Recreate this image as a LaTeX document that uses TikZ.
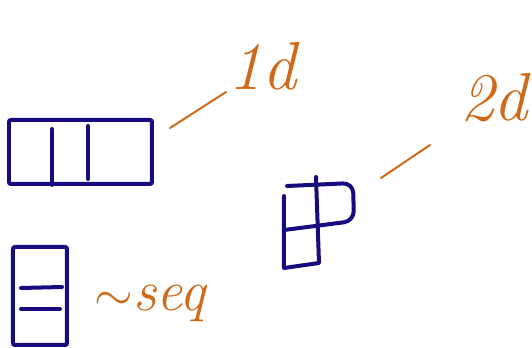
\documentclass[tikz,border=0pt]{standalone}
\usepackage{tikz}
\usetikzlibrary{positioning}
\definecolor{InkBlue}{RGB}{22,12,128}
\definecolor{InkOrange}{RGB}{207,106,26}
\tikzset{
  ink/.style={InkBlue, line width=2pt, line cap=round, line join=round},
  note/.style={InkOrange, line width=1pt, line cap=round},
  hand/.style={text=InkOrange, font=\itshape\fontsize{34}{34}\selectfont, inner sep=0pt},
  cellbox/.style={draw=InkBlue, line width=2pt, inner sep=0pt, outer sep=0pt, rounded corners=1pt}
}
\begin{document}
\begin{tikzpicture}[x=0.5pt, y=-0.5pt]
    \useasboundingbox (0,0) rectangle (532,348);

    % 1d row of cells
    \node[cellbox, minimum width=71.5pt, minimum height=32pt] (row) at (80.5,152) {};
    \draw[ink] (52,129) -- (52,185);
    \draw[ink] (88,126) -- (88,179);

    % 2d grid, one cell missing
    \draw[ink, rounded corners=5pt] (287,186) -- (353,183) -- (354,221) -- (284,230);
    \draw[ink] (284,196) -- (284,268) -- (319,263) -- (316,177);

    % seq column
    \node[cellbox, minimum width=27pt, minimum height=49pt] (col) at (40,296) {};
    \draw[ink] (21,288) -- (62,287);
    \draw[ink] (21,309) -- (60,309);

    % Labels
    \node[hand] (lab1) at (262,66) {1d};
    \node[hand] (lab2) at (494,98) {2d};
    \node[hand, font=\itshape\fontsize{29}{29}\selectfont] (lab3) at (150,303) {$\sim$seq};

    % Dashes to labels
    \coordinate (r1) at (170,128);
    \coordinate (l1) at (226,92);
    \coordinate (r2) at (381,178);
    \coordinate (l2) at (430,145);
    \draw[note] (r1) -- (l1);
    \draw[note] (r2) -- (l2);
\end{tikzpicture}
\end{document}
